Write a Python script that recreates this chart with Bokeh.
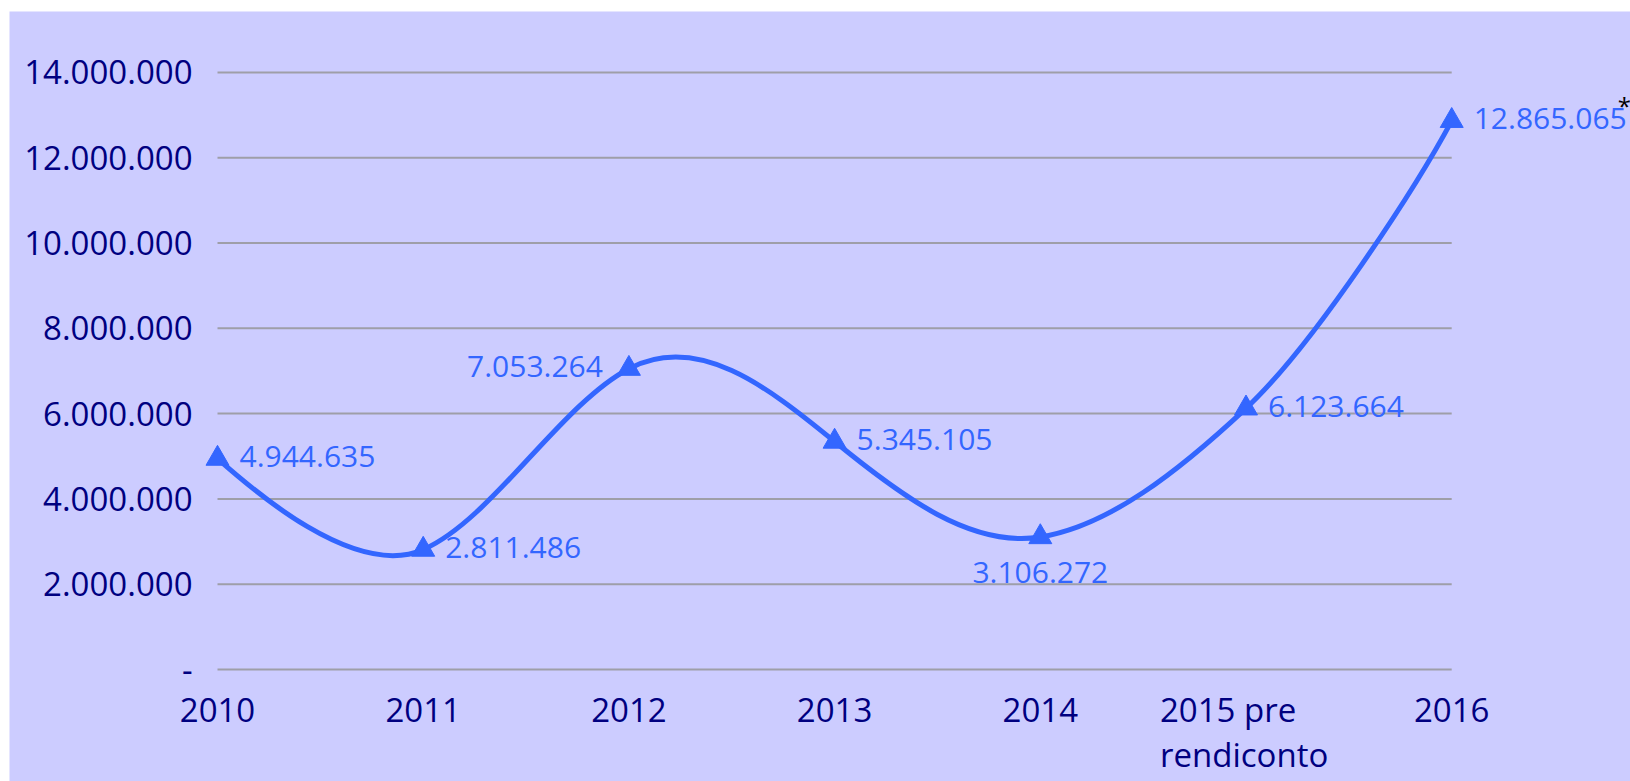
from bokeh.plotting import figure
from bokeh.models import Range1d, ColumnDataSource
from bokeh.core.properties import value
from bokeh.embed import file_html
from bokeh.resources import INLINE

# ---------------- data ----------------
categories = ["2010", "2011", "2012", "2013", "2014", "2015 pre\nrendiconto", "2016"]
values = [4944635, 2811486, 7053264, 5345105, 3106272, 6123664, 12865065]
y_ticks = [0, 2000000, 4000000, 6000000, 8000000, 10000000, 12000000, 14000000]
y_tick_labels = ["-", "2.000.000", "4.000.000", "6.000.000", "8.000.000",
                 "10.000.000", "12.000.000", "14.000.000"]
label_side = ["right", "right", "left", "right", "below", "right", "right"]
footnote_mark = "*"

# ---------------- style ----------------
BG = "#CCCCFF"
BLUE = "#3366FF"
NAVY = "#000080"
GRID = "#9E9EA8"
FONT = "Open Sans"

n = len(categories)
xs = list(range(n))
value_labels = [f"{v:,}".replace(",", ".") for v in values]

W, H = 1630, 781
p = figure(width=W, height=H, output_backend="svg", toolbar_location=None,
           x_range=Range1d(-1.0112, 6.8692), y_range=Range1d(-2626000, 15428000),
           min_border_left=9, min_border_right=0, min_border_top=11,
           min_border_bottom=0)
p.background_fill_color = BG
p.border_fill_color = "white"
p.outline_line_color = None
p.grid.visible = False
p.xaxis.visible = False
p.yaxis.visible = False

# gridlines spanning first..last category
p.segment(x0=[xs[0]] * len(y_ticks), x1=[xs[-1]] * len(y_ticks),
          y0=y_ticks, y1=y_ticks, line_color=GRID, line_width=2)

# value-axis labels (right aligned left of the plotting area)
p.text(x=[xs[0]] * len(y_ticks), y=y_ticks, text=y_tick_labels, x_offset=-25,
       text_align="right", text_baseline="middle", text_font=value(FONT),
       text_font_size="33px", text_color=NAVY)

# category labels under the zero line (one glyph per text line)
cx, cy, ct, ca, cxo, cyo = [], [], [], [], [], []
for i, c in enumerate(categories):
    lines = c.split("\n")
    for j, ln in enumerate(lines):
        cx.append(xs[i]); cy.append(y_ticks[0]); ct.append(ln)
        ca.append("left" if len(lines) > 1 else "center")
        cxo.append(-86 if len(lines) > 1 else 0)
        cyo.append(40 + 45 * j)
p.text(x=cx, y=cy, text=ct, x_offset=cxo, y_offset=cyo, text_align=ca,
       text_baseline="alphabetic", text_font=value(FONT), text_font_size="33px",
       text_color=NAVY)

# smoothed line (cubic Bezier segments, Catmull-Rom style control points,
# vertical handle length limited)
kx, ky, y_cap = 1.0 / 6.0, 1.0 / 3.0, 1500000


def handle(dy):
    return max(-y_cap, min(y_cap, dy * ky))


bx0, by0, bx1, by1, cx0, cy0, cx1, cy1 = [], [], [], [], [], [], [], []
for i in range(n - 1):
    i0 = max(i - 1, 0)
    i3 = min(i + 2, n - 1)
    bx0.append(xs[i]); by0.append(values[i])
    bx1.append(xs[i + 1]); by1.append(values[i + 1])
    cx0.append(xs[i] + (xs[i + 1] - xs[i0]) * kx)
    cy0.append(values[i] + handle(values[i + 1] - values[i0]))
    cx1.append(xs[i + 1] - (xs[i3] - xs[i]) * kx)
    cy1.append(values[i + 1] - handle(values[i3] - values[i]))
p.bezier(x0=bx0, y0=by0, x1=bx1, y1=by1, cx0=cx0, cy0=cy0, cx1=cx1, cy1=cy1,
         line_color=BLUE, line_width=5, line_cap="round")

p.scatter(xs, values, marker="triangle", size=23, fill_color=BLUE, line_color=BLUE)

# data labels
offsets = {"right": (22, -2, "left", "middle"),
           "left": (-26, -2, "right", "middle"),
           "below": (0, 25, "center", "top")}
src = ColumnDataSource(dict(
    x=xs, y=values, t=value_labels,
    xo=[offsets[s][0] for s in label_side],
    yo=[offsets[s][1] for s in label_side],
    al=[offsets[s][2] for s in label_side],
    bl=[offsets[s][3] for s in label_side]))
p.text(x="x", y="y", text="t", x_offset="xo", y_offset="yo",
       text_align="al", text_baseline="bl", source=src,
       text_font=value(FONT), text_font_size="30px", text_color=BLUE)

# footnote asterisk after the last label
p.text(x=[xs[-1]], y=[values[-1]], text=[footnote_mark], x_offset=166, y_offset=-15,
       text_align="left", text_baseline="middle",
       text_font=value(FONT), text_font_size="24px", text_color="black")

open("out.html", "w").write(file_html(p, INLINE))
